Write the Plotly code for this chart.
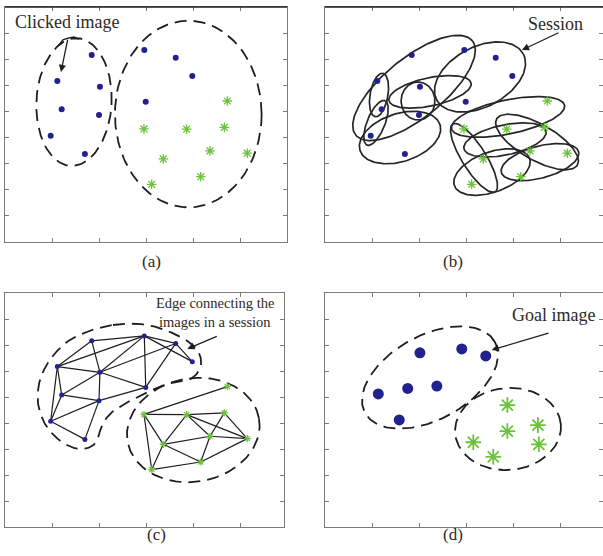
import numpy as np
import plotly.graph_objects as go

W, H = 603, 556

# ---------------- data (axis units) ----------------
# clicked images shared by panels (a), (b), (c)
blue_x = [1.845, 1.113, 2.02, 1.206, 2.0, 0.972, 1.70, 2.964, 3.632, 3.985, 2.994]
blue_y = [7.16, 6.17, 5.95, 5.08, 4.86, 4.07, 3.37, 7.35, 7.06, 6.36, 5.37]
green_x = [4.73, 2.957, 3.866, 4.666, 4.362, 3.368, 5.155, 4.164, 3.121]
green_y = [5.40, 4.33, 4.32, 4.39, 3.49, 3.18, 3.40, 2.50, 2.21]

# session graph edges of panel (c) (index pairs)
blue_edges = [(1, 0), (0, 7), (0, 2), (1, 7), (1, 2), (1, 3), (1, 5), (2, 7), (2, 8),
              (2, 10), (2, 3), (2, 4), (7, 10), (7, 8), (7, 9), (8, 10), (8, 9),
              (3, 4), (4, 10), (3, 5), (5, 4), (5, 6), (4, 6)]
green_edges = [(1, 0), (1, 2), (2, 3), (1, 5), (1, 8), (2, 5), (2, 4), (2, 6), (3, 4),
               (3, 6), (5, 4), (5, 7), (5, 8), (4, 6), (4, 7), (8, 7), (7, 6)]

# goal images of panel (d)
goal_blue_x = [2.02, 2.91, 3.42, 1.134, 1.76, 2.38, 1.58]
goal_blue_y = [6.70, 6.85, 6.58, 5.12, 5.33, 5.42, 4.12]
goal_green_x = [3.88, 3.88, 4.53, 3.155, 4.55, 3.58]
goal_green_y = [4.69, 3.69, 3.92, 3.26, 3.18, 2.70]

# ellipses: (cx, cy, a, b, angle_deg)  a,b in x-units
clusters_a = [(1.468, 5.36, 0.80, 1.36, -3), (3.90, 4.90, 1.56, 1.985, 0)]
sessions_b = [
    (1.894, 5.90, 1.596, 0.638, 39), (3.298, 6.32, 1.043, 0.638, 28),
    (1.149, 5.63, 0.468, 0.19, 80), (1.085, 4.56, 0.51, 0.19, 68),
    (1.979, 5.40, 0.404, 0.36, 90), (2.234, 5.75, 0.894, 0.30, 12),
    (1.596, 4.0, 0.894, 0.51, 18),
    (3.894, 4.79, 1.228, 0.362, 11.7), (3.170, 3.22, 0.851, 0.255, 122),
    (3.830, 3.91, 0.894, 0.32, 12), (4.511, 3.83, 0.989, 0.383, -29.6),
    (3.553, 2.68, 0.851, 0.426, 20), (4.574, 3.06, 0.851, 0.34, 15),
]
cluster_c_green = (4.006, 3.73, 1.42, 1.10, 10)
kidney_x = [2.298, 3.021, 3.660, 4.06, 4.17, 3.98, 3.511, 3.085, 2.617, 2.234, 2.043,
            1.957, 1.766, 1.468, 1.128, 0.851, 0.702, 0.745, 1.0, 1.489]
kidney_y = [7.77, 7.77, 7.38, 6.88, 6.27, 5.73, 5.54, 5.23, 4.81, 4.35, 3.81,
            3.31, 3.04, 3.04, 3.38, 3.96, 4.77, 5.65, 6.54, 7.31]
clusters_d = [(2.234, 5.75, 1.574, 0.894, 28.6), (3.894, 3.77, 1.128, 0.872, 5)]

# ---------------- geometry ----------------
SX = 47.0
panels = {
    "a": dict(x0=5, x1=287, top=7, bot=242),
    "b": dict(x0=325, x1=603, top=7, bot=242),
    "c": dict(x0=5, x1=284, top=293, bot=527),
    "d": dict(x0=325, x1=603, top=293, bot=527),
}
axis_ids = {"a": "", "b": "2", "c": "3", "d": "4"}
SY = {k: (p["bot"] - p["top"]) / 9.0 for k, p in panels.items()}

BLUE = "#22228f"
GREEN = "#6cc23a"
INK = "#1e1e1e"
DASH = "12px,7px"


def ellipse(e, sy, n=160):
    cx, cy, a, b, ang = e
    t = np.linspace(0, 2 * np.pi, n)
    th = np.radians(ang)
    X = a * np.cos(t) * np.cos(th) - b * np.sin(t) * np.sin(th)
    Y = a * np.cos(t) * np.sin(th) + b * np.sin(t) * np.cos(th)
    return cx + X, cy + Y * SX / sy


def closed_spline(xs, ys, sy, n=16):
    P = np.column_stack([np.array(xs) * SX, np.array(ys) * sy])
    m = len(P)
    out = []
    for i in range(m):
        p0, p1, p2, p3 = P[(i - 1) % m], P[i], P[(i + 1) % m], P[(i + 2) % m]
        for t in np.linspace(0, 1, n, endpoint=False):
            t2, t3 = t * t, t * t * t
            out.append(0.5 * ((2 * p1) + (-p0 + p2) * t + (2 * p0 - 5 * p1 + 4 * p2 - p3) * t2
                              + (-p0 + 3 * p1 - 3 * p2 + p3) * t3))
    out.append(out[0])
    out = np.array(out)
    return out[:, 0] / SX, out[:, 1] / sy


fig = go.Figure()


def ax(k):
    i = axis_ids[k]
    return dict(xaxis="x" + i, yaxis="y" + i)


def line_trace(k, x, y, dash=None, width=1.6, color=INK):
    fig.add_trace(go.Scatter(x=x, y=y, mode="lines", hoverinfo="skip", showlegend=False,
                             line=dict(color=color, width=width, dash=dash), **ax(k)))


def dots(k, x, y, size, color=BLUE):
    fig.add_trace(go.Scatter(x=x, y=y, mode="markers", hoverinfo="skip", showlegend=False,
                             marker=dict(symbol="circle", size=size, color=color,
                                         line=dict(width=0)), **ax(k)))


def stars(k, x, y, size, width):
    fig.add_trace(go.Scatter(x=x, y=y, mode="markers", hoverinfo="skip", showlegend=False,
                             marker=dict(symbol="asterisk-open", size=size, color=GREEN,
                                         line=dict(width=width, color=GREEN)), **ax(k)))


# panel (a)
for e in clusters_a:
    ex, ey = ellipse(e, SY["a"])
    line_trace("a", ex, ey, dash=DASH, width=1.8)
dots("a", blue_x, blue_y, 6)
stars("a", green_x, green_y, 8, 1.3)

# panel (b)
for e in sessions_b:
    ex, ey = ellipse(e, SY["b"])
    line_trace("b", ex, ey, width=1.7, color="#262626")
dots("b", blue_x, blue_y, 6)
stars("b", green_x, green_y, 8, 1.3)

# panel (c)
kx, ky = closed_spline(kidney_x, kidney_y, SY["c"])
line_trace("c", kx, ky, dash=DASH, width=1.8)
ex, ey = ellipse(cluster_c_green, SY["c"])
line_trace("c", ex, ey, dash=DASH, width=1.8)
exs, eys = [], []
for xs, ys, edges in ((blue_x, blue_y, blue_edges), (green_x, green_y, green_edges)):
    for i, j in edges:
        exs += [xs[i], xs[j], None]
        eys += [ys[i], ys[j], None]
line_trace("c", exs, eys, width=1.2)
dots("c", blue_x, blue_y, 5)
stars("c", green_x, green_y, 6, 1.2)

# panel (d)
for e in clusters_d:
    ex, ey = ellipse(e, SY["d"])
    line_trace("d", ex, ey, dash=DASH, width=1.8)
dots("d", goal_blue_x, goal_blue_y, 11)
stars("d", goal_green_x, goal_green_y, 13, 1.8)

# ---------------- axes ----------------
layout = dict(width=W, height=H, margin=dict(l=0, r=0, t=0, b=0),
              paper_bgcolor="white", plot_bgcolor="white", showlegend=False)
for k, p in panels.items():
    i = axis_ids[k]
    xr = (p["x1"] - p["x0"]) / SX
    common = dict(showgrid=False, zeroline=False, showline=True, mirror="ticks",
                  linecolor="#7a7a7a", linewidth=1, ticks="inside", ticklen=4,
                  tickcolor="#7a7a7a", showticklabels=False, fixedrange=True)
    layout["xaxis" + i] = dict(domain=[p["x0"] / W, min(p["x1"] / W, 1)], range=[0, xr],
                               tickvals=[1, 2, 3, 4, 5], anchor="y" + i, **common)
    layout["yaxis" + i] = dict(domain=[1 - p["bot"] / H, 1 - p["top"] / H], range=[0, 9],
                               tickvals=[1, 2, 3, 4, 5, 6, 7, 8], anchor="x" + i, **common)
fig.update_layout(**layout)

# darker top frame on (a), (b)
for k in ("a", "b"):
    i = axis_ids[k]
    fig.add_shape(type="line", xref="x" + i + " domain", yref="y" + i + " domain",
                  x0=0, x1=1, y0=1, y1=1, line=dict(color="#222", width=1.6))

SERIF = "Liberation Serif"
TXT = "#2e2a26"

# curl of the "Clicked image" arrow
line_trace("a", [1.128, 1.234, 1.340, 1.468, 1.574], [7.51, 7.74, 7.81, 7.85, 7.77], width=1.4)

arrows = [
    ("a", 1.340, 7.81, 1.191, 6.51),
    ("b", 5.0, 8.04, 4.19, 7.35),
    ("c", 4.538, 7.36, 3.879, 6.85),
    ("d", 4.787, 7.47, 3.547, 6.81),
]
for k, tx, ty, hx, hy in arrows:
    i = axis_ids[k]
    fig.add_annotation(x=hx, y=hy, ax=tx, ay=ty, xref="x" + i, yref="y" + i,
                       axref="x" + i, ayref="y" + i, text="", showarrow=True,
                       arrowhead=2, arrowsize=1.1, arrowwidth=1.3, arrowcolor=INK)

texts = [
    ("a", 1.309, 8.43, "Clicked image", 18),
    ("b", 4.905, 8.35, "Session", 18),
    ("c", 4.468, 8.62, "Edge connecting the", 14.5),
    ("c", 4.468, 7.88, "images in a session", 14.5),
    ("d", 4.862, 8.15, "Goal image", 18),
]
for k, x, y, t, s in texts:
    i = axis_ids[k]
    fig.add_annotation(x=x, y=y, xref="x" + i, yref="y" + i, text=t, showarrow=False,
                       font=dict(family=SERIF, size=s, color=TXT))

labels = [("(a)", 140, 261), ("(b)", 465, 261), ("(c)", 145, 546), ("(d)", 465, 546)]
for t, px, py in labels:
    fig.add_annotation(x=px / W, y=1 - py / H, xref="paper", yref="paper", text=t,
                       showarrow=False, font=dict(family=SERIF, size=17, color=TXT))

fig.write_html("out.html", config={"displayModeBar": False},
               post_script="document.body.style.margin='0';")
